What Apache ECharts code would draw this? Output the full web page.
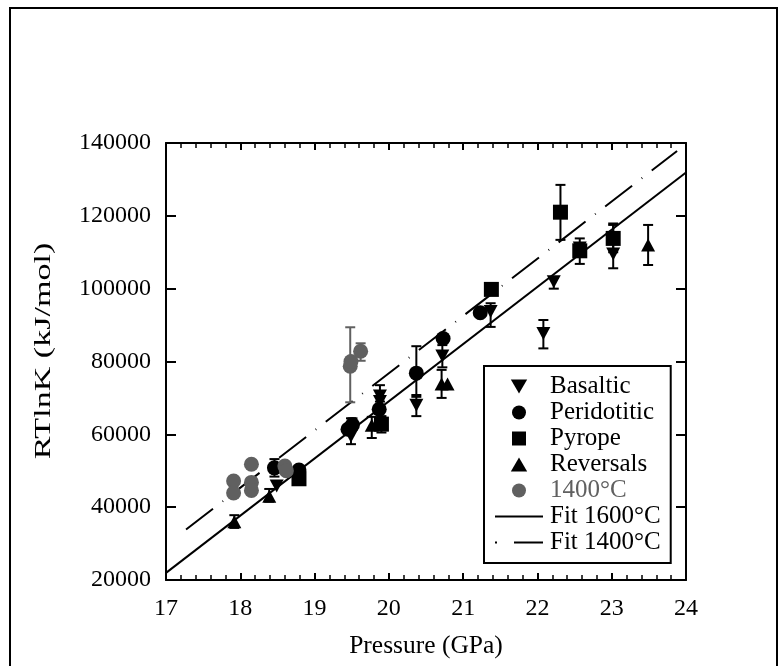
<!DOCTYPE html>
<html><head><meta charset="utf-8">
<script src="https://cdn.jsdelivr.net/npm/echarts@6/dist/echarts.min.js"></script>
<style>html,body{margin:0;padding:0;background:#fff}#c{width:779px;height:666px}</style>
</head><body><div id="c"></div>
<script>
// ---- data ----
const basalticX  = [18.49, 19.49, 19.88, 19.88, 20.37, 20.72, 21.37, 22.08, 22.22, 22.57, 23.02];
const basalticY  = [45800, 59500, 70500, 69000, 68000, 81500, 93700, 87700, 101900, 111200, 109500];
const basalticLo = [null, 57300, null, 67500, 65000, 78400, 89500, 83600, 100000, null, 105600];
const basalticHi = [null, 64400, 73500, null, 70800, 84500, 96000, 91400, 103000, null, 117900];

const peridX  = [18.46, 18.79, 19.45, 19.51, 19.87, 20.37, 20.73, 21.23];
const peridY  = [50800, 50200, 61400, 62600, 66900, 76800, 86300, 93400];
const peridLo = [48400, null, null, null, null, 70300, null, null];
const peridHi = [53200, null, null, 64400, null, 84200, null, null];

const pyropeX  = [18.79, 19.90, 21.38, 22.31, 22.57, 23.02];
const pyropeY  = [47800, 62800, 99800, 121000, 110400, 113800];
const pyropeLo = [null, 60500, null, 113400, 106800, 110000];
const pyropeHi = [null, 65000, null, 128500, 113800, 117500];

const revX  = [17.92, 18.39, 19.77, 20.71, 20.79, 23.49];
const revY  = [36000, 43000, 62500, 73800, 73800, 112000];
const revLo = [34300, 41500, 59000, 70000, null, 106500];
const revHi = [37800, 45000, 64800, 77700, null, 117500];

const t1400X  = [17.91, 17.91, 18.15, 18.15, 18.15, 18.60, 18.62, 19.48, 19.49, 19.62];
const t1400Y  = [47200, 43900, 51800, 46800, 44600, 51300, 50000, 78700, 80000, 82800];
const t1400Lo = [null, null, null, null, null, null, null, 68800, null, 80200];
const t1400Hi = [null, null, null, null, null, null, null, 89400, null, 85000];

const fit1600X = [17, 24];
const fit1600Y = [21960, 131900];
const fit1400X = [17.27, 23.88];
const fit1400Y = [33860, 137800];

const xTicks = [17, 24, 1];            // min, max, interval
const yTicks = [20000, 140000, 20000]; // min, max, interval

// ---- helpers ----
const SERIF = "'Liberation Serif','Times New Roman','DejaVu Serif',serif";
const GRAY = '#606060';
const pts = (xs, ys) => xs.map((x, i) => [x, ys[i]]);
const errs = (xs, lo, hi, ys) => xs.map((x, i) => (lo[i] == null && hi[i] == null) ? null :
  [x, lo[i] == null ? ys[i] : lo[i], hi[i] == null ? ys[i] : hi[i]]).filter(d => d);

function errRender(color) {
  return function (params, api) {
    const x = api.value(0), lo = api.value(1), hi = api.value(2);
    const p1 = api.coord([x, lo]), p2 = api.coord([x, hi]);
    const w = 5;
    const st = { stroke: color, lineWidth: 2 };
    return { type: 'group', children: [
      { type: 'line', shape: { x1: p1[0], y1: p1[1], x2: p2[0], y2: p2[1] }, style: st },
      { type: 'line', shape: { x1: p1[0] - w, y1: p1[1], x2: p1[0] + w, y2: p1[1] }, style: st },
      { type: 'line', shape: { x1: p2[0] - w, y1: p2[1], x2: p2[0] + w, y2: p2[1] }, style: st }
    ]};
  };
}
function errSeries(name, data, color) {
  return { name: name, type: 'custom', renderItem: errRender(color), data: data,
    encode: { x: 0, y: [1, 2] }, z: 3, silent: true, clip: false };
}

const ICON_DOWN = 'path://M0,0H14L7,12Z';
const ICON_UP = 'path://M7,0L14,12H0Z';
const ICON_SQ = 'path://M0,0H10V10H0Z';
const ICON_SOLID = 'path://M0,0H48V2H0Z';
const ICON_DASHDOT = 'path://M0,0H2V2H0Z M19,0H48V2H19Z';

const axisCommon = {
  axisLine: { show: true, onZero: false, lineStyle: { color: '#000', width: 2 } },
  splitLine: { show: false }
};

const chart = echarts.init(document.getElementById('c'), null, { renderer: 'canvas' });
chart.setOption({
  animation: false,
  backgroundColor: '#fff',
  grid: { left: 166, right: 93, top: 143, bottom: 86 },
  xAxis: [
    Object.assign({}, axisCommon, {
      type: 'value', position: 'bottom', min: xTicks[0], max: xTicks[1], interval: xTicks[2],
      axisTick: { inside: true, length: 7, lineStyle: { color: '#000', width: 2 } },
      minorTick: { show: true, splitNumber: 5, length: 5, lineStyle: { color: '#000', width: 1.5 } },
      axisLabel: { fontFamily: SERIF, fontSize: 24, color: '#000', margin: 17 },
      name: 'Pressure (GPa)', nameLocation: 'middle', nameGap: 53,
      nameTextStyle: { fontFamily: SERIF, fontSize: 25.5, color: '#000' }
    }),
    Object.assign({}, axisCommon, {
      type: 'value', position: 'top', min: xTicks[0], max: xTicks[1], interval: xTicks[2],
      axisTick: { inside: true, length: 7, lineStyle: { color: '#000', width: 2 } },
      minorTick: { show: true, splitNumber: 5, length: 5, lineStyle: { color: '#000', width: 1.5 } },
      axisLabel: { show: false }
    })
  ],
  yAxis: [
    Object.assign({}, axisCommon, {
      type: 'value', position: 'left', min: yTicks[0], max: yTicks[1], interval: yTicks[2],
      axisTick: { inside: true, length: 10, lineStyle: { color: '#000', width: 2 } },
      axisLabel: { fontFamily: SERIF, fontSize: 24, color: '#000', margin: 15,
        formatter: v => String(v) }
    }),
    Object.assign({}, axisCommon, {
      type: 'value', position: 'right', min: yTicks[0], max: yTicks[1], interval: yTicks[2],
      axisTick: { inside: true, length: 10, lineStyle: { color: '#000', width: 2 } },
      axisLabel: { show: false }
    })
  ],
  legend: {
    orient: 'vertical', left: 484, top: 366,
    padding: [8, 10, 8, 11], itemGap: 1, itemWidth: 48, itemHeight: 14,
    borderColor: '#000', borderWidth: 2, backgroundColor: '#fff',
    symbolKeepAspect: true,
    textStyle: { fontFamily: SERIF, fontSize: 25, color: '#000', lineHeight: 25, padding: [0, 0, 0, 2] },
    data: [
      { name: 'Basaltic', icon: ICON_DOWN },
      { name: 'Peridotitic', icon: 'circle' },
      { name: 'Pyrope', icon: ICON_SQ },
      { name: 'Reversals', icon: ICON_UP },
      { name: '1400°C', icon: 'circle', textStyle: { color: GRAY } },
      { name: 'Fit 1600°C', icon: ICON_SOLID },
      { name: 'Fit 1400°C', icon: ICON_DASHDOT }
    ]
  },
  graphic: [
    { type: 'rect', shape: { x: 10, y: 8, width: 767, height: 700 },
      style: { fill: null, stroke: '#000', lineWidth: 2 }, silent: true },
    { type: 'text', x: 44, y: 351, rotation: Math.PI / 2, scaleX: 1.42, scaleY: 1,
      style: { text: 'RTlnK (kJ/mol)', font: '24px ' + SERIF, fill: '#000',
        align: 'center', verticalAlign: 'middle' } }
  ],
  series: [
    { name: 'Fit 1600°C', type: 'line', data: pts(fit1600X, fit1600Y), symbol: 'none', z: 1,
      lineStyle: { color: '#000', width: 2 }, itemStyle: { color: '#000' } },
    { name: 'Fit 1400°C', type: 'line', data: pts(fit1400X, fit1400Y), symbol: 'none', z: 1,
      lineStyle: { color: '#000', width: 2, type: [34, 12, 0.8, 12] }, itemStyle: { color: '#000' } },
    errSeries('errB', errs(basalticX, basalticLo, basalticHi, basalticY), '#000'),
    errSeries('errP', errs(peridX, peridLo, peridHi, peridY), '#000'),
    errSeries('errY', errs(pyropeX, pyropeLo, pyropeHi, pyropeY), '#000'),
    errSeries('errR', errs(revX, revLo, revHi, revY), '#000'),
    errSeries('errT', errs(t1400X, t1400Lo, t1400Hi, t1400Y), GRAY),
    { name: 'Basaltic', type: 'scatter', data: pts(basalticX, basalticY), symbol: 'triangle',
      symbolRotate: 180, symbolSize: [14, 13], itemStyle: { color: '#000', opacity: 1 }, z: 5 },
    { name: 'Peridotitic', type: 'scatter', data: pts(peridX, peridY), symbol: 'circle',
      symbolSize: 15, itemStyle: { color: '#000', opacity: 1 }, z: 5 },
    { name: 'Pyrope', type: 'scatter', data: pts(pyropeX, pyropeY), symbol: 'rect',
      symbolSize: 15, itemStyle: { color: '#000', opacity: 1 }, z: 5 },
    { name: 'Reversals', type: 'scatter', data: pts(revX, revY), symbol: 'triangle',
      symbolSize: [14, 13], itemStyle: { color: '#000', opacity: 1 }, z: 5 },
    { name: '1400°C', type: 'scatter', data: pts(t1400X, t1400Y), symbol: 'circle',
      symbolSize: 15, itemStyle: { color: GRAY, opacity: 1 }, z: 5 }
  ]
});
</script></body></html>
